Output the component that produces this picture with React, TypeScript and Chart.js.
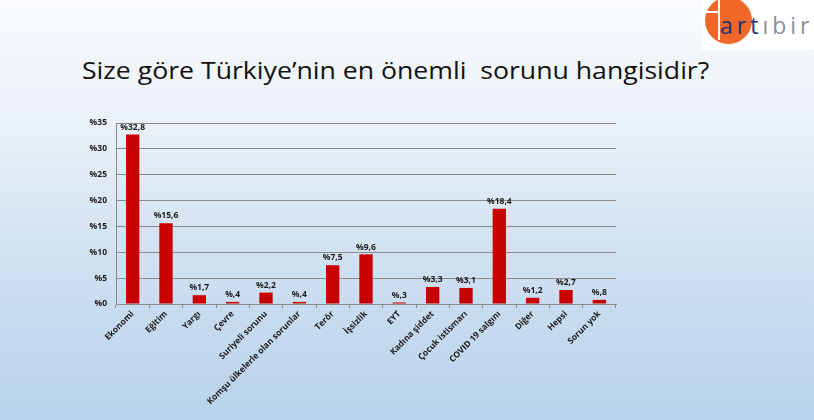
import React, { useEffect, useRef } from "react";
import { Chart, registerables } from "chart.js";

Chart.register(...registerables);

const categories = [
  "Ekonomi",
  "Eğitim",
  "Yargı",
  "Çevre",
  "Suriyeli sorunu",
  "Komşu ülkelerle olan sorunlar",
  "Terör",
  "İşsizlik",
  "EYT",
  "Kadına şiddet",
  "Çocuk istismarı",
  "COVID 19 salgını",
  "Diğer",
  "Hepsi",
  "Sorun yok",
];

const values = [32.8, 15.6, 1.7, 0.4, 2.2, 0.4, 7.5, 9.6, 0.3, 3.3, 3.1, 18.4, 1.2, 2.7, 0.8];

const yTicks = [0, 5, 10, 15, 20, 25, 30, 35];

const titleText = "Size göre Türkiye’nin en önemli  sorunu hangisidir?";

const FONT = "'Open Sans', sans-serif";

function fmt(v: number): string {
  let s = v.toFixed(1).replace(".", ",");
  if (s.startsWith("0")) s = s.slice(1);
  return "%" + s;
}

const valueLabels = {
  id: "valueLabels",
  afterDatasetsDraw(chart: any) {
    const ctx = chart.ctx;
    const meta = chart.getDatasetMeta(0);
    ctx.save();
    ctx.font = `bold 8.5px ${FONT}`;
    ctx.fillStyle = "#1a1a1a";
    ctx.textAlign = "center";
    ctx.textBaseline = "bottom";
    meta.data.forEach((bar: any, i: number) => {
      ctx.fillText(fmt(values[i]), bar.x, bar.y - 3);
    });
    ctx.restore();
  },
};

export default function App() {
  const ref = useRef<HTMLCanvasElement | null>(null);

  useEffect(() => {
    if (!ref.current) return;
    const chart = new Chart(ref.current, {
      type: "bar",
      data: {
        labels: categories,
        datasets: [
          {
            data: values,
            backgroundColor: "#c80000",
            categoryPercentage: 1,
            barPercentage: 0.4,
          },
        ],
      },
      options: {
        animation: false,
        responsive: false,
        maintainAspectRatio: false,
        layout: { padding: { left: 0, top: 123, right: 198, bottom: 0 } },
        plugins: { legend: { display: false }, tooltip: { enabled: false } },
        scales: {
          x: {
            offset: true,
            grid: {
              display: true,
              offset: true,
              drawOnChartArea: false,
              drawTicks: true,
              tickLength: 4,
              color: "#8a8a8a",
            },
            border: { display: true, color: "#8a8a8a" },
            ticks: {
              minRotation: 45,
              maxRotation: 45,
              autoSkip: false,
              padding: 1,
              color: "#1a1a1a",
              font: { family: FONT, size: 8.5, weight: "bold" },
            },
            afterFit(scale: any) {
              scale.height = 116;
            },
          },
          y: {
            min: 0,
            max: 35,
            afterBuildTicks(scale: any) {
              scale.ticks = yTicks.map((v) => ({ value: v }));
            },
            grid: { color: "#8a8a8a", drawTicks: false, lineWidth: 1 },
            border: { display: true, color: "#8a8a8a" },
            ticks: {
              padding: 9,
              color: "#1a1a1a",
              font: { family: FONT, size: 8.5, weight: "bold" },
              callback: (v: any) => "%" + v,
            },
            afterFit(scale: any) {
              scale.width = 116;
            },
          },
        },
      },
      plugins: [valueLabels],
    });
    return () => chart.destroy();
  }, []);

  return (
    <div
      style={{
        position: "fixed",
        left: 0,
        top: 0,
        width: 814,
        height: 420,
        overflow: "hidden",
        background:
          "linear-gradient(to bottom, #f9fbfd 0%, #eaf1f8 30%, #d1e1f1 60%, #b8d2eb 100%)",
      }}
    >
      <div
        style={{
          position: "absolute",
          left: 702,
          top: 0,
          width: 112,
          height: 50,
          background: "#ffffff",
          overflow: "hidden",
        }}
      >
        <div
          style={{
            position: "absolute",
            left: 3,
            top: -3,
            width: 47,
            height: 47,
            borderRadius: "50%",
            background: "#f0672a",
          }}
        />
        <div style={{ position: "absolute", left: 16, top: 0, width: 2, height: 40, background: "#fff" }} />
        <div style={{ position: "absolute", left: 3, top: 11, width: 14, height: 2, background: "#fff" }} />
        <div
          style={{
            position: "absolute",
            left: 18,
            top: 9,
            fontFamily: "'Open Sans', sans-serif",
            fontSize: 23,
            lineHeight: "32px",
            letterSpacing: 4,
            whiteSpace: "nowrap",
          }}
        >
          <span style={{ color: "#1f3270" }}>art</span>
          <span style={{ color: "#8a8f99" }}>ıbir</span>
        </div>
      </div>
      <div
        style={{
          position: "absolute",
          left: 82,
          top: 53,
          fontFamily: FONT,
          fontSize: 24,
          lineHeight: "34px",
          color: "#111",
          whiteSpace: "pre",
          transform: "scaleX(1.11)",
          transformOrigin: "0 0",
        }}
      >
        {titleText}
      </div>
      <canvas
        ref={ref}
        width={814}
        height={420}
        style={{ position: "absolute", left: 0, top: 0, width: 814, height: 420 }}
      />
    </div>
  );
}
